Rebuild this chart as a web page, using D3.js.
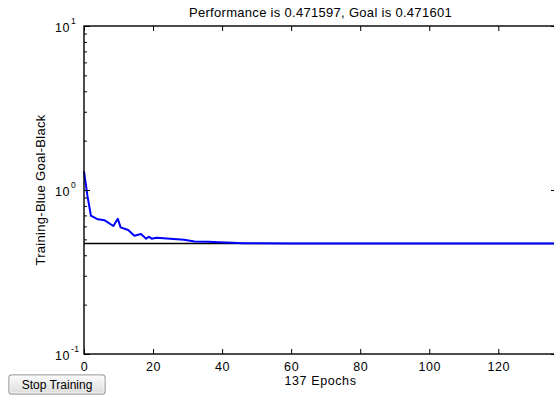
<!DOCTYPE html>
<html>
<head>
<meta charset="utf-8">
<script src="https://cdn.jsdelivr.net/npm/d3@7"></script>
<style>
body { margin: 0; background: #fff; }
text { font-family: "Liberation Sans", Arial, sans-serif; fill: #000; }
</style>
</head>
<body>
<div id="chart"></div>
<script>
// training performance (epoch, mse)
var epochs = [0, 1, 2, 4, 6, 8.5, 9.8, 10.6, 12.8, 14.6, 16.5, 18, 18.8, 19.6, 21, 25, 29, 32, 36, 39, 43, 46, 60, 80, 100, 120, 137];
var perf = [1.3, 0.92, 0.697, 0.663, 0.653, 0.603, 0.668, 0.592, 0.570, 0.526, 0.539, 0.505, 0.519, 0.505, 0.512, 0.505, 0.498, 0.486, 0.484, 0.480, 0.476, 0.4735, 0.4725, 0.4720, 0.4718, 0.4717, 0.471597];
var goal = 0.471601;
var xTicks = [0, 20, 40, 60, 80, 100, 120];
var yTicks = [0.1, 1, 10];
var yExp = ["-1", "0", "1"];
var titleText = "Performance is 0.471597, Goal is 0.471601";

var W = 554, H = 396;
var margin = {top: 26, right: -3, bottom: 42, left: 84};
var width = W - margin.left - margin.right,
    height = H - margin.top - margin.bottom;

var svg = d3.select("#chart").append("svg")
  .attr("width", W).attr("height", H);

var g = svg.append("g")
  .attr("transform", "translate(" + margin.left + "," + margin.top + ")");

var x = d3.scaleLinear().domain([0, 137]).range([0, width]);
var y = d3.scaleLog().domain([0.1, 10]).range([height, 0]);

// minor log ticks
var minor = [];
[0.1, 1].forEach(function(b) { for (var k = 2; k <= 9; k++) minor.push(b * k); });

// goal line
g.append("line")
  .attr("x1", x(0)).attr("x2", x(137))
  .attr("y1", y(goal)).attr("y2", y(goal))
  .attr("stroke", "#000").attr("stroke-width", 1.6);

// training line
var line = d3.line()
  .x(function(d, i) { return x(epochs[i]); })
  .y(function(d) { return y(d); });
g.append("path").datum(perf)
  .attr("d", line)
  .attr("fill", "none")
  .attr("stroke", "#0000ff")
  .attr("stroke-width", 2)
  .attr("stroke-linejoin", "round");

// box
g.append("rect")
  .attr("x", 0).attr("y", 0).attr("width", width).attr("height", height)
  .attr("fill", "none").attr("stroke", "#000").attr("stroke-width", 1.4);

// x ticks, bottom and top, pointing inward
var xa = g.append("g").attr("transform", "translate(0," + height + ")")
  .call(d3.axisBottom(x).tickValues(xTicks).tickSizeInner(-5).tickSizeOuter(0).tickPadding(8));
xa.select(".domain").remove();
xa.selectAll("text").style("font-size", "12.5px").style("letter-spacing", "0.6px")
  .style("font-family", "Liberation Sans, Arial, sans-serif");
var xt = g.append("g")
  .call(d3.axisTop(x).tickValues(xTicks).tickSizeInner(-5).tickSizeOuter(0).tickFormat(""));
xt.select(".domain").remove();

// y ticks, left and right (major longer than minor)
[[yTicks, 6], [minor, 3]].forEach(function(p) {
  var yl = g.append("g")
    .call(d3.axisLeft(y).tickValues(p[0]).tickSizeInner(-p[1]).tickSizeOuter(0).tickFormat(""));
  yl.select(".domain").remove();
  var yr = g.append("g").attr("transform", "translate(" + width + ",0)")
    .call(d3.axisRight(y).tickValues(p[0]).tickSizeInner(-p[1]).tickSizeOuter(0).tickFormat(""));
  yr.select(".domain").remove();
});

// y labels with exponent
yTicks.forEach(function(v, i) {
  var t = g.append("text")
    .attr("x", -29).attr("y", y(v) + 6)
    .style("font-size", "12.5px").style("letter-spacing", "0.5px");
  t.append("tspan").text("10");
  t.append("tspan").attr("dy", -8).attr("dx", 1).style("font-size", "8.5px").text(yExp[i]);
});

// title
svg.append("text")
  .attr("x", margin.left + x(137) / 2).attr("y", 17)
  .attr("text-anchor", "middle")
  .style("font-size", "13px").style("letter-spacing", "0.3px")
  .text(titleText);

// x label
svg.append("text")
  .attr("x", margin.left + x(137) / 2).attr("y", 385)
  .attr("text-anchor", "middle")
  .style("font-size", "12.5px").style("letter-spacing", "0.6px")
  .text("137 Epochs");

// y label
svg.append("text")
  .attr("transform", "translate(45," + (margin.top + y(1)) + ") rotate(-90)")
  .attr("text-anchor", "middle")
  .style("font-size", "13px").style("letter-spacing", "0.3px")
  .text("Training-Blue  Goal-Black");

// stop training button
var defs = svg.append("defs");
var grad = defs.append("linearGradient").attr("id", "btn").attr("x1", 0).attr("x2", 0).attr("y1", 0).attr("y2", 1);
grad.append("stop").attr("offset", "0%").attr("stop-color", "#fbfbfb");
grad.append("stop").attr("offset", "100%").attr("stop-color", "#dcdcdc");
var btn = svg.append("g").attr("transform", "translate(9,375)");
btn.append("rect").attr("width", 96).attr("height", 19).attr("rx", 2)
  .attr("fill", "url(#btn)").attr("stroke", "#7a7a7a").attr("stroke-width", 1);
btn.append("rect").attr("x", 1).attr("y", 1).attr("width", 94).attr("height", 17).attr("rx", 1.5)
  .attr("fill", "none").attr("stroke", "#ffffff").attr("stroke-width", 0.8);
btn.append("text").attr("x", 48).attr("y", 14).attr("text-anchor", "middle")
  .style("font-size", "12px").text("Stop Training");
</script>
</body>
</html>
